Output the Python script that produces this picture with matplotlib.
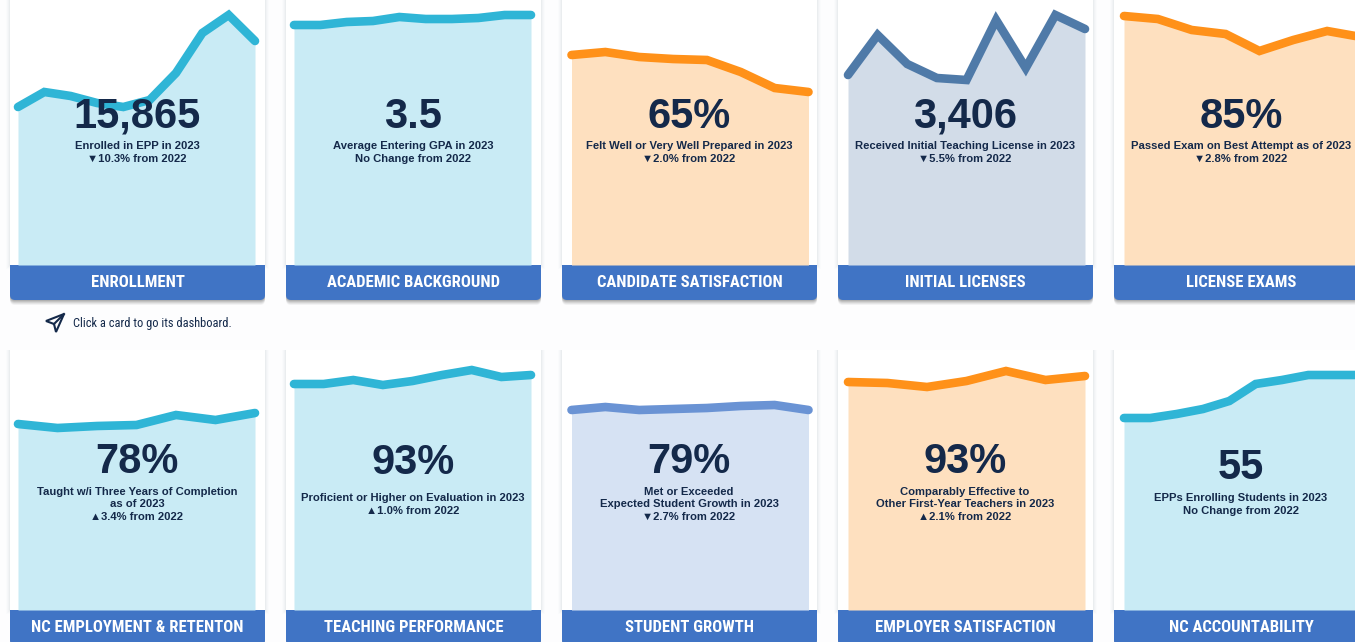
import matplotlib
matplotlib.use("Agg")
import matplotlib.pyplot as plt
from matplotlib import font_manager as fm
from matplotlib.patches import FancyBboxPatch, Rectangle, Polygon

W, H = 1355, 642
DPI = 100
names = {f.name for f in fm.fontManager.ttflist}
COND = 'Roboto Condensed' if 'Roboto Condensed' in names else 'Roboto'
HEAD_SIZE = 12.0 if COND == 'Roboto Condensed' else 10.5
HINT_SIZE = 8.9 if COND == 'Roboto Condensed' else 8

# ---- data: index height of each trend line above the card baseline ----
enrollment = [158, 173, 169, 162, 158, 165, 192, 232, 250, 224]
academic = [240, 240, 243, 244, 248, 246, 246, 247, 250, 250]
satisfaction = [210, 213, 208, 206, 205, 193, 177, 173]
licenses = [190, 230, 201, 187, 185, 245, 197, 250, 236]
exams = [249, 246, 235, 231, 214, 225, 234, 228]
employment = [186, 182, 184, 185, 195, 190, 197]
teaching = [226, 226, 230, 225, 229, 235, 240, 233, 235]
growth = [200, 203, 200, 201, 202, 204, 205, 200]
employer = [228, 227, 223, 229, 239, 230, 234]
accountability = [192, 192, 196, 201, 209, 226, 230, 235, 235, 235]

titles = ["ENROLLMENT", "ACADEMIC BACKGROUND", "CANDIDATE SATISFACTION", "INITIAL LICENSES", "LICENSE EXAMS",
          "NC EMPLOYMENT & RETENTON", "TEACHING PERFORMANCE", "STUDENT GROWTH", "EMPLOYER SATISFACTION", "NC ACCOUNTABILITY"]
big_labels = ["15,865", "3.5", "65%", "3,406", "85%", "78%", "93%", "79%", "93%", "55"]
captions = [
    ["Enrolled in EPP in 2023", "▼10.3% from 2022"],
    ["Average Entering GPA in 2023", "No Change from 2022"],
    ["Felt Well or Very Well Prepared in 2023", "▼2.0% from 2022"],
    ["Received Initial Teaching License in 2023", "▼5.5% from 2022"],
    ["Passed Exam on Best Attempt as of 2023", "▼2.8% from 2022"],
    ["Taught w/i Three Years of Completion", "as of 2023", "▲3.4% from 2022"],
    ["Proficient or Higher on Evaluation in 2023", "▲1.0% from 2022"],
    ["Met or Exceeded", "Expected Student Growth in 2023", "▼2.7% from 2022"],
    ["Comparably Effective to", "Other First-Year Teachers in 2023", "▲2.1% from 2022"],
    ["EPPs Enrolling Students in 2023", "No Change from 2022"],
]
series = [enrollment, academic, satisfaction, licenses, exams, employment, teaching, growth, employer, accountability]
TEAL = ("#2fb5d6", "#c9ebf5")
ORANGE = ("#ff9119", "#fee0bf")
NAVY = ("#4f7aa8", "#d2dce8")
BLUE = ("#6a93d4", "#d6e2f3")
palette = [TEAL, TEAL, ORANGE, NAVY, ORANGE, TEAL, TEAL, BLUE, ORANGE, TEAL]

INK = "#14294a"
HEAD = "#4074c5"
SANS = ['Liberation Sans', 'DejaVu Sans']

card_left = [10, 286, 562, 838, 1114]
chart_left = [18, 294, 571.5, 848, 1124]
chart_w = 237
card_w = 255
rows = [(-20, 265, 35), (350, 610, 35)]
big_y = [117, 117, 117, 117, 117, 462, 463, 462, 462, 468]
cap_y = [[146, 159], [146, 159], [146, 159], [146, 159], [146, 159],
         [492, 504, 517], [498, 511], [492, 504, 517], [492, 504, 517], [498, 511]]

fig = plt.figure(figsize=(W / DPI, H / DPI), dpi=DPI, facecolor="#fdfdfe")
bg = fig.add_axes([0, 0, 1, 1])
bg.set_xlim(0, W)
bg.set_ylim(H, 0)
bg.axis("off")

for i in range(10):
    c = i % 5
    top, base, hh = rows[i // 5]
    x0 = card_left[c]
    for g, a in ((4, .012), (3, .018), (2, .025), (1, .035)):
        bg.add_patch(Rectangle((x0 - g, top), card_w + 2 * g, base - top + g, fc="#445566", alpha=a, ec="none", zorder=1))
    bg.add_patch(Rectangle((x0, top), card_w, base - top, fc="white", ec="none", zorder=2))
    for g, a in ((5, .05), (4, .07), (3, .09), (2, .11), (1, .13)):
        bg.add_patch(FancyBboxPatch((x0, base + 2), card_w, hh - 2 + g, boxstyle="round,pad=0,rounding_size=5",
                                    fc="#333", alpha=a, ec="none", zorder=2.5))
    bg.add_patch(FancyBboxPatch((x0, base + 8), card_w, hh - 8, boxstyle="round,pad=0,rounding_size=5",
                                fc=HEAD, ec="none", zorder=3))
    bg.add_patch(Rectangle((x0, base), card_w, 14, fc=HEAD, ec="none", zorder=3))
    bg.text(x0 + card_w / 2, base + 17.5, titles[i], color="white", fontsize=HEAD_SIZE, fontweight="bold",
            family=COND, ha="center", va="center", zorder=4)

    ax = fig.add_axes([chart_left[c] / W, 1 - base / H, chart_w / W, (base - max(top, 0)) / H], zorder=2)
    ax.patch.set_alpha(0)
    ax.axis("off")
    vals = series[i]
    xs = list(range(len(vals)))
    ax.set_xlim(0, len(vals) - 1)
    ax.set_ylim(0, base - max(top, 0))
    line, fill = palette[i]
    ax.fill_between(xs, vals, 0, color=fill, lw=0)
    ax.plot(xs, vals, color=line, lw=6.2, solid_capstyle="round", solid_joinstyle="miter", clip_on=False)

    fig.text((x0 + card_w / 2 - 0.5) / W, 1 - big_y[i] / H, big_labels[i], color=INK, fontsize=30, fontweight="bold",
             family=SANS, ha="center", va="center", zorder=6)
    for s, y in zip(captions[i], cap_y[i]):
        fig.text((x0 + card_w / 2 - 0.5) / W, 1 - y / H, s, color=INK, fontsize=8.15, fontweight="bold",
                 family=SANS, ha="center", va="center", zorder=6)

icon = [(64, 314), (46, 321), (54, 324), (56, 332)]
bg.add_patch(Polygon(icon, closed=True, fc="none", ec=INK, lw=1.5, zorder=5))
bg.plot([54, 64], [324, 314], color=INK, lw=1.5, zorder=5)
bg.text(73, 323, "Click a card to go its dashboard.", color=INK, fontsize=HINT_SIZE, family=COND, ha="left", va="center", zorder=5)

fig.savefig("out.png", dpi=DPI, facecolor=fig.get_facecolor())
